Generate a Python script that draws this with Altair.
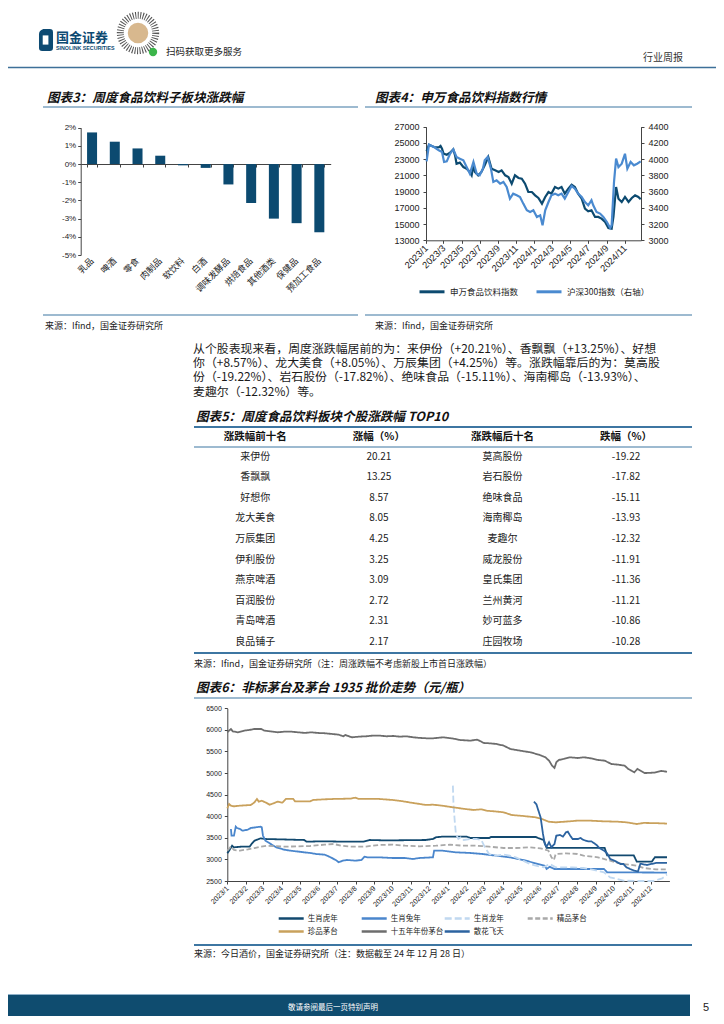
import altair as alt
import pandas as pd

W, H = 708, 1008
OFF = 8


def px(v):
    return v - OFF


CJK = "Noto Sans CJK SC"
NUM = "Liberation Sans, Noto Sans CJK SC"
LINE = "#3d76a2"
NAVY = "#0c4a70"
LIGHT = "#4a8ad0"
AX = "#444444"
TXT = "#222222"

# ------------------------------------------------------------------ data
# 图表3
sector_names = ['乳品', '啤酒', '零食', '肉制品', '软饮料', '白酒', '调味发酵品',
                '烘焙食品', '其他酒类', '保健品', '预加工食品']
sector_chg = [1.74, 1.23, 0.86, 0.46, -0.07, -0.21, -1.12, -2.14, -3.00, -3.25, -3.75]
pct_ticks = [-5, -4, -3, -2, -1, 0, 1, 2]

# 图表4
idx_names = ['申万食品饮料指数', '沪深300指数（右轴）']
sw_dates = ['2023-01-03', '2023-01-11', '2023-01-28', '2023-02-13', '2023-02-19', '2023-02-24',
            '2023-03-01', '2023-03-12', '2023-03-23', '2023-04-03', '2023-04-09', '2023-04-14',
            '2023-04-25', '2023-05-07', '2023-05-18', '2023-05-29', '2023-06-04', '2023-06-10',
            '2023-06-15', '2023-06-26', '2023-07-07', '2023-07-18', '2023-07-30', '2023-08-10',
            '2023-08-22', '2023-09-03', '2023-09-13', '2023-09-25', '2023-10-06', '2023-10-17',
            '2023-10-28', '2023-11-09', '2023-11-20', '2023-12-01', '2023-12-12', '2023-12-24',
            '2024-01-04', '2024-01-15', '2024-01-27', '2024-02-07', '2024-02-18', '2024-02-28',
            '2024-03-11', '2024-03-22', '2024-04-02', '2024-04-13', '2024-04-25', '2024-05-06',
            '2024-05-17', '2024-05-28', '2024-06-09', '2024-06-20', '2024-07-01', '2024-07-12',
            '2024-07-24', '2024-08-04', '2024-08-15', '2024-08-27', '2024-09-07', '2024-09-18',
            '2024-09-24', '2024-10-03', '2024-10-11', '2024-10-22', '2024-11-02', '2024-11-14',
            '2024-11-25', '2024-12-06', '2024-12-17', '2024-12-25']
sw_vals = [24000, 24780, 24500, 24450, 24620, 24290, 23680, 23550, 23800, 24210, 23470, 22440,
           22570, 22030, 21830, 21420, 21010, 22240, 21420, 21010, 21420, 22240, 23270, 21830,
           21620, 21420, 21620, 21010, 20800, 19980, 21010, 20680, 20600, 19980, 18950, 18950,
           18540, 18220, 17520, 18340, 18950, 18750, 19570, 19370, 19570, 18750, 19370, 19860,
           19570, 18750, 18130, 16900, 16570, 16700, 15880, 15880, 15670, 15260, 14520, 14440,
           15880, 19570, 18130, 17720, 18340, 17720, 18220, 18540, 18340, 18050]
hs_dates = ['2023-01-03', '2023-01-11', '2023-01-28', '2023-02-13', '2023-02-24', '2023-03-03',
            '2023-03-12', '2023-03-23', '2023-04-03', '2023-04-14', '2023-04-25', '2023-05-07',
            '2023-05-18', '2023-05-29', '2023-06-10', '2023-06-21', '2023-07-01', '2023-07-12',
            '2023-07-18', '2023-07-28', '2023-08-08', '2023-08-16', '2023-08-27', '2023-09-08',
            '2023-09-19', '2023-09-30', '2023-10-11', '2023-10-22', '2023-11-03', '2023-11-14',
            '2023-11-25', '2023-12-07', '2023-12-18', '2023-12-29', '2024-01-10', '2024-01-21',
            '2024-01-29', '2024-02-07', '2024-02-18', '2024-02-28', '2024-03-11', '2024-03-22',
            '2024-04-02', '2024-04-13', '2024-04-25', '2024-05-06', '2024-05-17', '2024-05-28',
            '2024-06-09', '2024-06-20', '2024-07-01', '2024-07-12', '2024-07-18', '2024-07-29',
            '2024-08-10', '2024-08-21', '2024-09-02', '2024-09-13', '2024-09-18', '2024-09-26',
            '2024-10-03', '2024-10-11', '2024-10-22', '2024-11-02', '2024-11-10', '2024-11-21',
            '2024-12-02', '2024-12-13', '2024-12-25']
hs_vals = [3973, 4178, 4150, 4109, 4088, 3965, 3973, 4067, 4121, 4026, 4006, 3985,
           3903, 3821, 3965, 3821, 3801, 3883, 3985, 4026, 3883, 3719, 3739, 3698,
           3719, 3657, 3513, 3575, 3554, 3534, 3452, 3370, 3349, 3370, 3288, 3308,
           3185, 3370, 3472, 3554, 3575, 3554, 3575, 3513, 3595, 3669, 3636, 3575,
           3534, 3472, 3431, 3493, 3431, 3349, 3329, 3288, 3226, 3152, 3185, 3719,
           4006, 3903, 3944, 4067, 3883, 3965, 3924, 3944, 3973]
sw_ticks = [13000, 15000, 17000, 19000, 21000, 23000, 25000, 27000]
hs_ticks = [3000, 3200, 3400, 3600, 3800, 4000, 4200, 4400]

# 图表5
tbl_headers = ['涨跌幅前十名', '涨幅（%）', '涨跌幅后十名', '跌幅（%）']
top_names = ['来伊份', '香飘飘', '好想你', '龙大美食', '万辰集团', '伊利股份', '燕京啤酒',
             '百润股份', '青岛啤酒', '良品铺子']
top_vals = ['20.21', '13.25', '8.57', '8.05', '4.25', '3.25', '3.09', '2.72', '2.31', '2.17']
bot_names = ['莫高股份', '岩石股份', '绝味食品', '海南椰岛', '麦趣尔', '威龙股份', '皇氏集团',
             '兰州黄河', '妙可蓝多', '庄园牧场']
bot_vals = ['-19.22', '-17.82', '-15.11', '-13.93', '-12.32', '-11.91', '-11.36', '-11.21',
            '-10.86', '-10.28']

# 图表6
s6_names = ['生肖虎年', '生肖兔年', '生肖龙年', '精品茅台', '珍品茅台', '十五年年份茅台', '散花飞天']
tiger_dates = ['2023-01-01', '2023-01-04', '2023-01-09', '2023-01-12', '2023-01-24', '2023-02-07',
               '2023-02-10', '2023-02-15', '2023-02-25', '2023-03-05', '2023-05-08', '2023-05-12',
               '2023-06-10', '2023-07-10', '2023-08-14', '2023-08-24', '2023-09-20', '2023-11-25',
               '2023-12-07', '2023-12-12', '2023-12-22', '2024-02-01', '2024-02-07', '2024-03-09',
               '2024-03-12', '2024-05-25', '2024-05-29', '2024-06-07', '2024-06-12', '2024-09-16',
               '2024-09-20', '2024-11-03', '2024-11-08', '2024-12-03', '2024-12-08', '2024-12-28']
tiger_vals = [3141, 3203, 3318, 3280, 3295, 3295, 3357, 3434, 3488, 3473, 3450, 3411,
              3420, 3411, 3411, 3450, 3440, 3450, 3473, 3512, 3527, 3527, 3496, 3496,
              3519, 3519, 3496, 3450, 3265, 3265, 3095, 3095, 2950, 2950, 3050, 3050]
rabbit_dates = ['2023-01-07', '2023-01-08', '2023-01-12', '2023-01-15', '2023-01-17', '2023-01-22',
                '2023-01-26', '2023-02-04', '2023-02-09', '2023-02-17', '2023-02-25', '2023-02-27',
                '2023-03-01', '2023-03-05', '2023-03-12', '2023-03-23', '2023-04-05', '2023-04-15',
                '2023-04-25', '2023-05-08', '2023-05-18', '2023-05-28', '2023-06-11', '2023-06-21',
                '2023-07-01', '2023-07-04', '2023-07-11', '2023-07-18', '2023-08-01', '2023-08-11',
                '2023-08-16', '2023-08-21', '2023-09-09', '2023-10-01', '2023-10-22', '2023-11-04',
                '2023-11-15', '2023-12-07', '2023-12-09', '2023-12-22', '2024-01-14', '2024-02-07',
                '2024-02-27', '2024-03-20', '2024-04-12', '2024-05-04', '2024-05-25', '2024-06-09',
                '2024-06-12', '2024-06-17', '2024-06-25', '2024-09-15', '2024-09-20', '2024-12-28']
rabbit_vals = [3705, 3550, 3550, 3759, 3728, 3705, 3666, 3689, 3728, 3743, 3759, 3743,
               3550, 3434, 3373, 3280, 3226, 3203, 3187, 3164, 3149, 3125, 3110, 3048,
               2971, 2933, 2971, 2987, 2971, 2987, 3064, 3048, 3048, 3033, 3033, 3010,
               3033, 3048, 3203, 3203, 3164, 3149, 3125, 3087, 3048, 2987, 2910, 2855,
               2778, 2830, 2778, 2778, 2701, 2695]
dragon_dates = ['2024-01-09', '2024-01-10', '2024-01-12', '2024-01-14', '2024-01-18', '2024-01-22',
                '2024-01-27', '2024-02-07', '2024-02-17', '2024-02-25', '2024-03-02', '2024-03-09',
                '2024-03-20', '2024-04-02', '2024-04-12', '2024-04-22', '2024-05-04', '2024-05-15',
                '2024-05-25', '2024-06-07', '2024-06-17', '2024-06-27', '2024-07-25', '2024-08-12',
                '2024-08-22', '2024-09-04', '2024-09-15', '2024-09-25', '2024-10-07', '2024-10-17',
                '2024-11-08', '2024-12-05', '2024-12-20', '2024-12-28']
dragon_vals = [4709, 4284, 3898, 3589, 3473, 3512, 3450, 3473, 3473, 3450, 3280, 3125,
               3087, 3110, 3087, 3048, 2971, 2894, 2855, 2817, 2894, 2817, 2817, 2801,
               2778, 2739, 2701, 2585, 2546, 2508, 2500, 2500, 2560, 2650]
boutique_dates = ['2023-01-01', '2023-01-07', '2023-01-12', '2023-01-22', '2023-02-04', '2023-02-15',
                  '2023-02-25', '2023-03-07', '2023-04-05', '2023-05-18', '2023-06-11', '2023-06-26',
                  '2023-07-08', '2023-07-24', '2023-08-16', '2023-09-09', '2023-10-01', '2023-10-22',
                  '2023-11-15', '2023-12-12', '2024-01-04', '2024-01-25', '2024-02-17', '2024-03-09',
                  '2024-04-02', '2024-04-22', '2024-05-14', '2024-06-02', '2024-06-15', '2024-06-20',
                  '2024-06-24', '2024-06-27', '2024-07-14', '2024-08-02', '2024-08-12', '2024-09-05',
                  '2024-09-25', '2024-10-07', '2024-10-17', '2024-10-28', '2024-11-08', '2024-11-20',
                  '2024-12-10', '2024-12-28']
boutique_vals = [3203, 3295, 3218, 3203, 3234, 3264, 3295, 3318, 3295, 3311, 3342, 3357,
                 3318, 3295, 3295, 3334, 3342, 3318, 3303, 3318, 3342, 3318, 3318, 3295,
                 3264, 3264, 3280, 3257, 3203, 3048, 2987, 3125, 3141, 3125, 3087, 3048,
                 2971, 2917, 2894, 2878, 2855, 2800, 2770, 2770]
treasure_dates = ['2023-01-01', '2023-01-04', '2023-01-07', '2023-01-12', '2023-01-22', '2023-02-09',
                  '2023-02-15', '2023-02-19', '2023-02-22', '2023-02-27', '2023-03-07', '2023-03-12',
                  '2023-03-20', '2023-03-25', '2023-04-02', '2023-04-08', '2023-04-20', '2023-04-23',
                  '2023-05-18', '2023-05-23', '2023-06-11', '2023-06-26', '2023-07-24', '2023-08-01',
                  '2023-08-06', '2023-09-09', '2023-10-01', '2023-10-11', '2023-10-22', '2023-11-04',
                  '2023-11-15', '2023-11-25', '2023-12-07', '2023-12-22', '2024-01-09', '2024-01-25',
                  '2024-02-12', '2024-02-25', '2024-03-04', '2024-03-17', '2024-04-02', '2024-04-15',
                  '2024-05-04', '2024-05-25', '2024-06-04', '2024-06-15', '2024-06-27', '2024-07-20',
                  '2024-08-02', '2024-08-22', '2024-09-15', '2024-10-07', '2024-10-22', '2024-11-08',
                  '2024-11-20', '2024-12-10', '2024-12-28']
treasure_vals = [4183, 4284, 4245, 4230, 4245, 4261, 4323, 4400, 4338, 4361, 4307, 4268,
                 4307, 4338, 4315, 4400, 4400, 4346, 4346, 4377, 4392, 4400, 4408, 4431,
                 4400, 4400, 4377, 4361, 4338, 4307, 4284, 4261, 4268, 4245, 4207, 4176,
                 4145, 4160, 4129, 4114, 4091, 4029, 4006, 3975, 3937, 3874, 3859, 3882,
                 3898, 3898, 3882, 3874, 3859, 3820, 3845, 3840, 3830]
vintage_dates = ['2023-01-01', '2023-01-07', '2023-01-10', '2023-01-18', '2023-01-29', '2023-02-10',
                 '2023-02-15', '2023-02-26', '2023-03-03', '2023-03-13', '2023-03-25', '2023-04-06',
                 '2023-04-16', '2023-04-28', '2023-05-09', '2023-05-20', '2023-05-31', '2023-06-12',
                 '2023-06-23', '2023-07-04', '2023-07-12', '2023-07-15', '2023-07-26', '2023-08-07',
                 '2023-08-18', '2023-08-29', '2023-09-10', '2023-09-21', '2023-10-02', '2023-10-13',
                 '2023-10-24', '2023-11-05', '2023-11-16', '2023-11-27', '2023-12-07', '2023-12-24',
                 '2024-01-10', '2024-01-21', '2024-02-07', '2024-02-18', '2024-02-24', '2024-02-29',
                 '2024-03-10', '2024-03-21', '2024-04-02', '2024-04-13', '2024-04-29', '2024-05-16',
                 '2024-05-30', '2024-06-10', '2024-06-16', '2024-06-21', '2024-06-25', '2024-06-28',
                 '2024-07-02', '2024-07-10', '2024-07-21', '2024-08-02', '2024-08-13', '2024-08-24',
                 '2024-09-05', '2024-09-16', '2024-09-27', '2024-10-08', '2024-10-19', '2024-10-25',
                 '2024-10-30', '2024-11-04', '2024-11-09', '2024-11-21', '2024-12-07', '2024-12-19',
                 '2024-12-28']
vintage_vals = [5944, 6021, 5967, 5944, 5983, 6006, 6021, 6021, 5983, 5967, 5944, 5960,
                5960, 5944, 5929, 5944, 5929, 5921, 5906, 5890, 5851, 5882, 5828, 5844,
                5851, 5867, 5867, 5851, 5859, 5844, 5851, 5828, 5813, 5805, 5805, 5828,
                5797, 5766, 5751, 5774, 5736, 5697, 5689, 5674, 5635, 5558, 5519, 5481,
                5427, 5365, 5288, 5172, 5118, 5249, 5303, 5326, 5365, 5349, 5365, 5342,
                5303, 5288, 5210, 5195, 5172, 5095, 5056, 5017, 5095, 5000, 5010, 5050,
                5030]
flying_dates = ['2024-05-22', '2024-05-26', '2024-06-02', '2024-06-06', '2024-06-09', '2024-06-12',
                '2024-06-16', '2024-06-20', '2024-06-25', '2024-06-28', '2024-07-04', '2024-07-09',
                '2024-07-14', '2024-07-17', '2024-07-21', '2024-07-25', '2024-08-03', '2024-08-07',
                '2024-08-12', '2024-08-20', '2024-08-25', '2024-09-02', '2024-09-07', '2024-09-15',
                '2024-09-20', '2024-09-25', '2024-10-02', '2024-10-07', '2024-10-12', '2024-10-17',
                '2024-10-22', '2024-10-28', '2024-11-04', '2024-11-10', '2024-11-14', '2024-11-25',
                '2024-12-10', '2024-12-28']
flying_vals = [4338, 4280, 3975, 3589, 3357, 3295, 3396, 3280, 3357, 3550, 3566, 3527,
               3627, 3643, 3550, 3473, 3473, 3496, 3450, 3419, 3419, 3342, 3265, 3203,
               3141, 3010, 2972, 2933, 2894, 2894, 2817, 2778, 2739, 2720, 2900, 2870,
               2920, 2920]
price_ticks = [2500, 3000, 3500, 4000, 4500, 5000, 5500, 6000, 6500]

# paragraph
para_lines = [
    '从个股表现来看，周度涨跌幅居前的为：来伊份（+20.21%）、香飘飘（+13.25%）、好想',
    '你（+8.57%）、龙大美食（+8.05%）、万辰集团（+4.25%）等。涨跌幅靠后的为：莫高股',
    '份（-19.22%）、岩石股份（-17.82%）、绝味食品（-15.11%）、海南椰岛（-13.93%）、',
    '麦趣尔（-12.32%）等。',
]


# ------------------------------------------------------------------ helpers
def txt(s, x, y, size=9, weight='normal', style='normal', color=TXT, align='left', font=CJK):
    return alt.Chart(pd.DataFrame({'t': [s]})).mark_text(
        align=align, baseline='middle', fontSize=size, fontWeight=weight,
        fontStyle=style, color=color, font=font
    ).encode(x=alt.value(px(x)), y=alt.value(px(y)), text='t:N')


def hline(x1, x2, y, color=LINE, width=1.2):
    return alt.Chart(pd.DataFrame({'a': [0]})).mark_rule(color=color, strokeWidth=width).encode(
        x=alt.value(px(x1)), x2=alt.value(px(x2)), y=alt.value(px(y)))


def utc(y, m, d=1):
    return alt.DateTime(year=y, month=m, date=d, utc=True)


TITLE = 12.6
SRC = 9
layers = []

# ------------------------------------------------------------------ header
logo_path = ("M -0.25 -1 L 0.35 -1 Q 0.64 -1 0.64 -0.7 L 0.64 0.7 Q 0.64 1 0.35 1 "
             "L -0.35 1 Q -0.64 1 -0.64 0.7 L -0.64 -0.55 Q -0.64 -0.85 -0.25 -1 Z")
inner_path = "M -0.3 -0.42 L 0.22 -0.42 L 0.22 0.42 L -0.3 0.42 Z"
one = pd.DataFrame({'a': [0]})
layers.append(alt.Chart(one).mark_point(shape=logo_path, filled=True, color='#0d4a72', size=480, opacity=1)
              .encode(x=alt.value(px(46)), y=alt.value(px(40))))
layers.append(alt.Chart(one).mark_point(shape=inner_path, filled=True, color='white', size=480, opacity=1)
              .encode(x=alt.value(px(46)), y=alt.value(px(40))))
layers.append(txt('国金证券', 56, 37.5, size=13, weight='bold', color='#0d4a72'))
layers.append(txt('SINOLINK SECURITIES', 56, 48, size=5.3, weight='bold', color='#0d4a72', font='Liberation Sans'))
layers.append(alt.Chart(one).mark_point(shape='circle', filled=False, color='#555555', strokeWidth=7,
                                        strokeDash=[1, 1.5], size=1250, opacity=1)
              .encode(x=alt.value(px(138)), y=alt.value(px(33))))
layers.append(alt.Chart(one).mark_point(shape='circle', filled=True, color='#d8b88e', size=420, opacity=1)
              .encode(x=alt.value(px(138)), y=alt.value(px(33))))
layers.append(alt.Chart(one).mark_point(shape='circle', filled=True, color='#3bb54a', size=70, opacity=1)
              .encode(x=alt.value(px(153)), y=alt.value(px(52))))
layers.append(txt('扫码获取更多服务', 166, 52, size=9.5))
layers.append(txt('行业周报', 643, 58, size=10, color='#333333'))
layers.append(hline(0, 724, 67.5, color='#3d7099', width=1.6))

# ------------------------------------------------------------------ 图表3 / 图表4 titles
layers.append(txt('图表3：周度食品饮料子板块涨跌幅', 47, 97.5, size=TITLE, weight='bold', style='italic', color='#111111'))
layers.append(hline(43, 358, 107))
layers.append(txt('图表4：申万食品饮料指数行情', 375, 97.5, size=TITLE, weight='bold', style='italic', color='#111111'))
layers.append(hline(365, 692, 107))

# 图表3 bars
df3 = pd.DataFrame({'cat': sector_names, 'v': sector_chg})
x3 = alt.Scale(type='band', domain=sector_names, range=[px(80.7), px(330.7)],
               paddingInner=0.56, paddingOuter=0.28)
y3 = alt.Scale(domain=[-5, 2], range=[px(255), px(127.7)], nice=False, zero=False)
layers.append(alt.Chart(df3).mark_bar(color=NAVY).encode(
    x=alt.X('cat:N', sort=sector_names, scale=x3,
            axis=alt.Axis(orient='bottom', offset=px(164) - H, labels=False, ticks=True,
                          tickBand='extent', tickSize=3, domainColor=AX, tickColor=AX,
                          title=None, grid=False)),
    y=alt.Y('v:Q', scale=y3,
            axis=alt.Axis(orient='left', offset=-px(80.7), values=pct_ticks,
                          labelExpr="datum.value + '%'", tickSize=3, labelFontSize=8,
                          labelFont=NUM, labelColor=TXT, domainColor=AX, tickColor=AX,
                          labelPadding=2, title=None, grid=False)),
    y2=alt.datum(0),
))
layers.append(alt.Chart(df3).mark_point(opacity=0).encode(
    x=alt.X('cat:N', sort=sector_names, scale=x3,
            axis=alt.Axis(orient='bottom', offset=px(259) - H, domain=False, ticks=False,
                          labelAngle=-45, labelAlign='right', labelBaseline='middle',
                          labelPadding=0, labelFontSize=8.8, labelFont=CJK, labelColor=TXT,
                          labelOverlap=False, title=None, grid=False)),
))

# ------------------------------------------------------------------ 图表4
x4 = alt.Scale(type='utc', domain=[utc(2023, 1, 1), utc(2024, 12, 26)], range=[px(426), px(641)])
df_sw = pd.DataFrame({'d': sw_dates, 'v': sw_vals, 's': idx_names[0]})
df_hs = pd.DataFrame({'d': hs_dates, 'v': hs_vals})
tick4 = [utc(2023 + (m // 12), m % 12 + 1) for m in range(0, 24, 2)]
layers.append(alt.Chart(df_sw).mark_line(strokeWidth=2.2).encode(
    x=alt.X('d:T', scale=x4,
            axis=alt.Axis(orient='bottom', offset=px(240.3) - H, values=tick4, format='%Y/%-m',
                          labelAngle=-45, labelAlign='right', labelBaseline='middle',
                          labelPadding=3, tickSize=3, labelFontSize=9.3, labelFont=NUM,
                          labelColor=TXT, domainColor=AX, tickColor=AX, labelOverlap=False,
                          labelFlush=False, title=None, grid=False)),
    y=alt.Y('v:Q', scale=alt.Scale(domain=[13000, 27000], range=[px(240.3), px(126.7)], nice=False, zero=False),
            axis=alt.Axis(orient='left', offset=-px(426), values=sw_ticks, format='d', tickSize=3,
                          labelFontSize=9, labelFont=NUM, labelColor=TXT, domainColor=AX,
                          tickColor=AX, labelPadding=4, title=None, grid=False)),
    color=alt.Color('s:N', scale=alt.Scale(domain=idx_names, range=[NAVY, LIGHT]),
                    legend=alt.Legend(orient='none', legendX=px(418), legendY=px(277.8), direction='horizontal',
                                      title=None, symbolType='stroke', symbolSize=625,
                                      symbolStrokeWidth=3, labelFontSize=8.5, labelFont=CJK,
                                      labelColor=TXT, columnPadding=11, padding=0, labelOffset=4)),
))
layers.append(alt.Chart(df_hs).mark_line(strokeWidth=2.2, color=LIGHT).encode(
    x=alt.X('d:T', scale=x4, axis=None),
    y=alt.Y('v:Q', scale=alt.Scale(domain=[3000, 4400], range=[px(240.3), px(126.7)], nice=False, zero=False),
            axis=alt.Axis(orient='right', offset=px(641) - W, values=hs_ticks, format='d', tickSize=3,
                          labelFontSize=9, labelFont=NUM, labelColor=TXT, domainColor=AX,
                          tickColor=AX, labelPadding=4, title=None, grid=False)),
))

layers.append(hline(43, 358, 315))
layers.append(hline(365, 692, 315))
layers.append(txt('来源：Ifind，国金证券研究所', 45, 326, size=SRC))
layers.append(txt('来源：Ifind，国金证券研究所', 375, 326, size=SRC))

# ------------------------------------------------------------------ paragraph
for i, line in enumerate(para_lines):
    layers.append(txt(line, 193, 348.5 + i * 14.4, size=11.9, color='#1a1a1a'))

# ------------------------------------------------------------------ 图表5 table
layers.append(txt('图表5：周度食品饮料板块个股涨跌幅 TOP10', 196, 416.7, size=TITLE, weight='bold', style='italic', color='#111111'))
layers.append(hline(194, 692, 427, width=2))
layers.append(hline(194, 692, 447, width=1.2))
layers.append(hline(194, 692, 653, width=2))

xt = alt.Scale(type='point', domain=[0, 1, 2, 3], range=[px(255.3), px(626)], padding=0)
df_head = pd.DataFrame({'c': [0, 1, 2, 3], 't': tbl_headers})
layers.append(alt.Chart(df_head).mark_text(fontSize=10.5, fontWeight='bold', font=CJK, color='#111111', baseline='middle')
              .encode(x=alt.X('c:O', scale=xt, axis=None), y=alt.value(px(436.5)), text='t:N'))
rows = []
for i in range(10):
    for c, arr in enumerate([top_names, top_vals, bot_names, bot_vals]):
        rows.append({'r': i, 'c': c, 't': arr[i]})
df_tbl = pd.DataFrame(rows)
layers.append(alt.Chart(df_tbl).mark_text(fontSize=10, font=CJK, color=TXT, baseline='middle').encode(
    x=alt.X('c:O', scale=xt, axis=None),
    y=alt.Y('r:O', scale=alt.Scale(type='point', domain=list(range(10)), range=[px(456.5), px(642)], padding=0), axis=None),
    text='t:N'))
layers.append(txt('来源：Ifind，国金证券研究所（注：周涨跌幅不考虑新股上市首日涨跌幅）', 194, 663.5, size=SRC))

# ------------------------------------------------------------------ 图表6
layers.append(txt('图表6：非标茅台及茅台 1935 批价走势（元/瓶）', 196, 688.3, size=TITLE, weight='bold', style='italic', color='#111111'))
layers.append(hline(194, 692, 698))

frames = []
for name, ds, vs in zip(s6_names,
                        [tiger_dates, rabbit_dates, dragon_dates, boutique_dates, treasure_dates, vintage_dates, flying_dates],
                        [tiger_vals, rabbit_vals, dragon_vals, boutique_vals, treasure_vals, vintage_vals, flying_vals]):
    frames.append(pd.DataFrame({'s': name, 'd': ds, 'v': vs}))
df6 = pd.concat(frames, ignore_index=True)
colors6 = ['#12496f', '#4a86cc', '#c0d8f0', '#a9a9a9', '#c9a15c', '#6d6d6d', '#2c63a0']
dash6 = [[1, 0], [1, 0], [7, 3], [5, 2.5], [1, 0], [1, 0], [1, 0]]
# a long flat legend stroke drawn with a small symbol size, so rows stay tight
leg6 = alt.Legend(orient='none', legendX=px(287.2), legendY=px(914.5), direction='horizontal', columns=4,
                  gridAlign='all', title=None, symbolType='M -5 0 L 5 0', symbolSize=25,
                  symbolStrokeWidth=2.5, labelFontSize=7.5, labelFont=CJK, labelColor=TXT,
                  columnPadding=-4, rowPadding=3, padding=0, labelOffset=12.5)
tick6 = [utc(2023 + (m // 12), m % 12 + 1) for m in range(24)]
layers.append(alt.Chart(df6).mark_line(strokeWidth=1.8).encode(
    x=alt.X('d:T', scale=alt.Scale(type='utc', domain=[utc(2023, 1, 1), utc(2025, 1, 1)], range=[px(227.3), px(669.4)]),
            axis=alt.Axis(orient='bottom', offset=px(881) - H, values=tick6, format='%Y/%-m',
                          labelAngle=-45, labelAlign='right', labelBaseline='middle', labelPadding=3,
                          tickSize=3, labelFontSize=7.2, labelFont=NUM, labelColor=TXT, domainColor=AX,
                          tickColor=AX, labelOverlap=False, labelFlush=False, title=None, grid=False)),
    y=alt.Y('v:Q', scale=alt.Scale(domain=[2500, 6500], range=[px(881), px(708.3)], nice=False, zero=False),
            axis=alt.Axis(orient='left', offset=-px(227.3), values=price_ticks, format='d', tickSize=3,
                          labelFontSize=7, labelFont=NUM, labelColor=TXT, domainColor=AX, tickColor=AX,
                          labelPadding=3, title=None, grid=False)),
    color=alt.Color('s:N', scale=alt.Scale(domain=s6_names, range=colors6), legend=leg6),
    strokeDash=alt.StrokeDash('s:N', scale=alt.Scale(domain=s6_names, range=dash6), legend=leg6),
))
layers.append(hline(194, 692, 945, width=2))
layers.append(txt('来源：今日酒价，国金证券研究所（注：数据截至 24 年 12 月 28 日）', 194, 953.5, size=SRC))

# ------------------------------------------------------------------ footer
layers.append(alt.Chart(one).mark_rect(color='#0f4c6f').encode(
    x=alt.value(px(0)), x2=alt.value(px(690)), y=alt.value(px(994)), y2=alt.value(px(1024))))
layers.append(hline(0, 690, 994.5, color='#8fb1c9', width=1))
layers.append(txt('敬请参阅最后一页特别声明', 333, 1008, size=7.5, color='white', align='center'))
layers.append(txt('5', 706, 1008, size=11, color='#222222', align='center', font='Liberation Sans'))

chart = alt.layer(*layers).resolve_scale(
    x='independent', y='independent', color='independent', strokeDash='independent'
).properties(
    width=W, height=H, padding=0, autosize=alt.AutoSizeParams(type='none')
).configure(background='white').configure_view(stroke=None)

chart.save("out.html", embed_options={"renderer": "svg", "actions": False})
